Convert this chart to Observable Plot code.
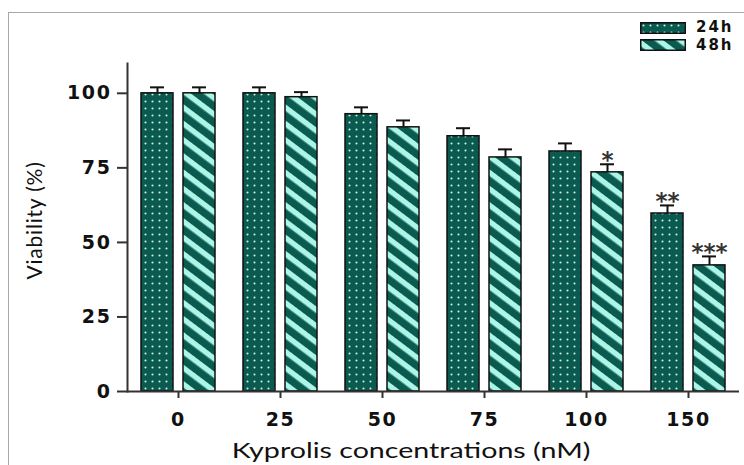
<!DOCTYPE html>
<html>
<head>
<meta charset="utf-8">
<script src="https://cdn.jsdelivr.net/npm/d3@7"></script>
<script src="https://cdn.jsdelivr.net/npm/@observablehq/plot@0.6"></script>
<style>
  html, body { margin: 0; padding: 0; background: #fff; }
  #wrap { position: relative; width: 744px; height: 465px; overflow: hidden; background: #fff; }
  #border { position: absolute; left: 8px; top: 12px; width: 760px; height: 470px;
            border-left: 1.5px solid #a8a8a8; border-top: 1.5px solid #a8a8a8; }
  #chart { position: absolute; left: 0; top: 0; }
  #legend { position: absolute; left: 640px; top: 19px; font-family: "DejaVu Sans", sans-serif;
            font-weight: bold; font-size: 15px; line-height: 15px; color: #111; letter-spacing: 2px; }
  #legend .row { display: flex; align-items: center; height: 17.5px; }
  #legend svg { margin-right: 10px; flex: none; }
  #xtitle { position: absolute; left: 411px; top: 436px; transform: translateX(-50%) scaleX(1.3);
            white-space: nowrap; font-family: Lato, sans-serif; font-size: 22px; color: #111; }
</style>
</head>
<body>
<div id="wrap">
  <svg width="0" height="0" style="position:absolute">
    <defs>
      <pattern id="dots" patternUnits="userSpaceOnUse" width="7" height="7">
        <rect width="7" height="7" fill="#0b5a50"></rect>
        <circle cx="3.5" cy="3.5" r="1.05" fill="#cdeee6"></circle>
      </pattern>
      <pattern id="stripes" patternUnits="userSpaceOnUse" width="13" height="13" patternTransform="rotate(37)">
        <rect width="13" height="13" fill="#0b5a50"></rect>
        <rect y="0" width="13" height="5.4" fill="#adf5e6"></rect>
      </pattern>
    </defs>
  </svg>
  <div id="border"></div>
  <div id="chart"></div>
  <div id="legend"></div>
  <div id="xtitle">Kyprolis concentrations (nM)</div>
</div>
<script>
const concentrations = ["0", "25", "50", "75", "100", "150"];
const series = ["24h", "48h"];
const viability24 = [100, 100, 93.0, 85.6, 80.5, 59.7];
const viability48 = [100, 98.7, 88.6, 78.5, 73.5, 42.3];
const err24 = [2.0, 2.0, 2.3, 2.7, 2.7, 2.7];
const err48 = [2.0, 1.7, 2.3, 2.7, 2.7, 3.0];
const stars24 = ["", "", "", "", "", "**"];
const stars48 = ["", "", "", "", "*", "***"];
const yTicks = [0, 25, 50, 75, 100];
const yTitle = "Viability (%)";
const fills = {"24h": "url(#dots)", "48h": "url(#stripes)"};

const data = concentrations.flatMap((c, i) => [
  {conc: c, series: "24h", value: viability24[i], err: err24[i], stars: stars24[i]},
  {conc: c, series: "48h", value: viability48[i], err: err48[i], stars: stars48[i]}
]);
const errTop = d => d.value + d.err;

const chart = Plot.plot({
  width: 744,
  height: 465,
  marginLeft: 125,
  marginRight: 4,
  marginTop: 63,
  marginBottom: 74,
  style: {fontFamily: "DejaVu Sans, sans-serif", color: "#111", background: "transparent"},
  fx: {domain: concentrations, padding: 0, label: null},
  x: {domain: series, paddingInner: 0.233, paddingOuter: 0.308, axis: null},
  y: {domain: [0, 110], label: yTitle},
  marks: [
    Plot.barY(data.filter(d => d.series === "24h"), {fx: "conc", x: "series", y: "value", fill: fills["24h"], stroke: "#111", strokeWidth: 1.5}),
    Plot.barY(data.filter(d => d.series === "48h"), {fx: "conc", x: "series", y: "value", fill: fills["48h"], stroke: "#111", strokeWidth: 1.5}),
    Plot.ruleX(data, {fx: "conc", x: "series", y1: "value", y2: errTop, stroke: "#111", strokeWidth: 2}),
    Plot.tickY(data, {fx: "conc", x: "series", y: errTop, insetLeft: 9, insetRight: 9, stroke: "#111", strokeWidth: 2}),
    Plot.text(data, {fx: "conc", x: "series", y: errTop, text: "stars", dy: 4, lineAnchor: "bottom",
                     fontSize: 23, fontWeight: "bold", fill: "#333", fontFamily: "DejaVu Sans"}),
    Plot.ruleY([0], {stroke: "#333", strokeWidth: 2}),
    Plot.frame({anchor: "left", facetAnchor: "left", stroke: "#333", strokeWidth: 2}),
    Plot.axisY({ticks: yTicks, tickSize: 10, tickPadding: 6, fontSize: 19, fontWeight: "bold",
                label: yTitle, labelAnchor: "center", labelArrow: "none", labelOffset: 100,
                stroke: "#333", strokeWidth: 2}),
    Plot.axisFx({anchor: "bottom", tickSize: 7, tickPadding: 14, fontSize: 19, fontWeight: "bold",
                 label: null, stroke: "#333", strokeWidth: 2})
  ]
});
document.getElementById("chart").appendChild(chart);

// typographic tweaks: wider bold tick labels, regular-weight y title
chart.querySelectorAll("text").forEach(t => {
  if (t.textContent === yTitle) {
    t.setAttribute("font-size", "21");
    t.setAttribute("font-weight", "normal");
    t.setAttribute("font-family", "Lato, sans-serif");
    t.setAttribute("dx", "7");
    t.style.fontSize = "21px";
    t.style.fontWeight = "normal";
    t.style.fontFamily = "Lato, sans-serif";
    t.style.letterSpacing = "0.8px";
    if (t.parentNode) {
      t.parentNode.setAttribute("font-size", "21");
      t.parentNode.setAttribute("font-weight", "normal");
    }
  } else if (/^\d+$/.test(t.textContent)) {
    t.style.letterSpacing = "1.6px";
  }
});

const legend = document.getElementById("legend");
series.forEach(s => {
  const row = document.createElement("div");
  row.className = "row";
  row.innerHTML = `<svg width="46" height="12"><rect x="0.75" y="0.75" width="44.5" height="10.5" fill="${fills[s]}" stroke="#111" stroke-width="1.5"></rect></svg><span>${s}</span>`;
  legend.appendChild(row);
});
</script>
</body>
</html>
